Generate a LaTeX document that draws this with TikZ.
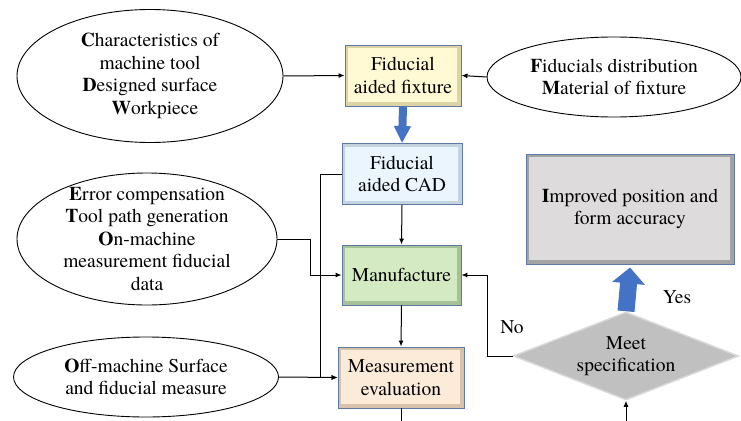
\documentclass[tikz,border=0pt]{standalone}
\usepackage{fontspec}
\setmainfont{texgyretermes}[Extension=.otf,UprightFont=*-regular,BoldFont=*-bold,ItalicFont=*-italic]
\usetikzlibrary{shapes.geometric,arrows.meta}

\definecolor{boxline}{HTML}{5B7BA6}
\definecolor{fixfill}{HTML}{FFF9D4}
\definecolor{fixedge}{HTML}{DCD3A6}
\definecolor{cadfill}{HTML}{EAF5FD}
\definecolor{cadedge}{HTML}{C3D3E0}
\definecolor{manfill}{HTML}{D4EAC3}
\definecolor{manedge}{HTML}{A7C196}
\definecolor{measfill}{HTML}{FDEBDA}
\definecolor{measedge}{HTML}{D9C2AC}
\definecolor{impfill}{HTML}{DDDBDB}
\definecolor{impedge}{HTML}{A3A3A3}
\definecolor{diafill}{HTML}{C0C0C0}
\definecolor{diaedge}{HTML}{D8D8D8}
\definecolor{bigblue}{HTML}{4472C4}

\begin{document}
\begin{tikzpicture}[x=1pt,y=-1pt,
  font=\rmfamily\fontsize{19.5}{22.5}\selectfont,
  oval/.style={ellipse,draw,line width=0.9pt,inner sep=0pt,align=center},
  stagebox/.style n args={2}{rectangle,draw=boxline,line width=0.9pt,inner sep=0pt,
    align=center,fill=#2,
    path picture={\fill[#1] ([shift={(3pt,-3pt)}]path picture bounding box.north west)
      rectangle ([shift={(-4pt,4pt)}]path picture bounding box.south east);}},
  arr/.style={line width=1pt,-{Latex[length=6pt,width=5pt]}},
  bigarr/.style={bigblue,line width=#1}]

\useasboundingbox (0,0) rectangle (741,420);
\clip (0,0) rectangle (741,420);

%% inputs
\node[oval,minimum width=266,minimum height=133] (tool) at (150,76)
  {\textbf{C}haracteristics of\\machine tool\\\textbf{D}esigned surface\\\ \ \textbf{W}orkpiece};
\node[oval,minimum width=254,minimum height=80] (distr) at (614,77)
  {\textbf{F}iducials distribution\\\textbf{M}aterial of fixture};
\node[oval,inner ysep=-22pt,minimum width=260,minimum height=132] (comp) at (147,239)
  {\textbf{E}rror compensation\\\textbf{T}ool path generation\\\textbf{O}n-machine\\measurement fiducial\\data};
\node[oval,minimum width=265,minimum height=80] (offm) at (146,377)
  {\textbf{O}ff-machine Surface\\and fiducial measure};

%% stages
\node[stagebox={fixfill}{fixedge},minimum width=116,minimum height=61] (fix) at (403,75.5)
  {Fiducial\\aided fixture};
\node[stagebox={cadfill}{cadedge},minimum width=120,minimum height=61] (cad) at (402,174)
  {Fiducial\\aided CAD};
\node[stagebox={manfill}{manedge},minimum width=119,minimum height=60] (man) at (401.5,275)
  {Manufacture};
\node[stagebox={measfill}{measedge},minimum width=126,minimum height=61] (meas) at (401,377.5)
  {Measurement\\evaluation};
\node[stagebox={impfill}{impedge},minimum width=208,minimum height=110] (imp) at (630,209)
  {\textbf{I}mproved position and\\form accuracy};
\node[diamond,aspect=2.5,inner sep=0pt,align=center,fill=diafill,draw=diaedge,
  line width=1.5pt,minimum width=225,minimum height=88] (spec) at (626,356)
  {Meet\\specification};

\node (yes) at (677,297) {Yes};
\node (no) at (512,327) {No};

%% bus coordinates
\coordinate (busM) at (310,0);
\coordinate (busL) at (320,0);
\coordinate (busR) at (487,0);

%% connectors
\draw[arr] (tool.east) -- (fix.west);
\draw[arr] (distr.west) -- (fix.east);
\draw[bigarr=8pt,-{Triangle[width=16pt,length=17pt]}] (fix.south) -- (cad.north);
\draw[arr] (cad.south) -- (man.north);
\draw[arr] (man.south) -- (meas.north);
\draw[arr] (cad.west) -- (cad.west -| busL) |- (meas.west);
\draw[arr] (comp.east) -- (comp.east -| busM) |- (man.west);
\draw[arr] (offm.east) -- (meas.west);
\draw[arr] (spec.west) -- (spec.west -| busR) |- (man.east);
\draw[bigarr=17pt,-{Triangle[width=32pt,length=16pt]}] (spec.north) -- ([yshift=-3pt]imp.south);
\draw[arr] (meas.south) -- ++(0,30) -| (spec.south);

\end{tikzpicture}
\end{document}
